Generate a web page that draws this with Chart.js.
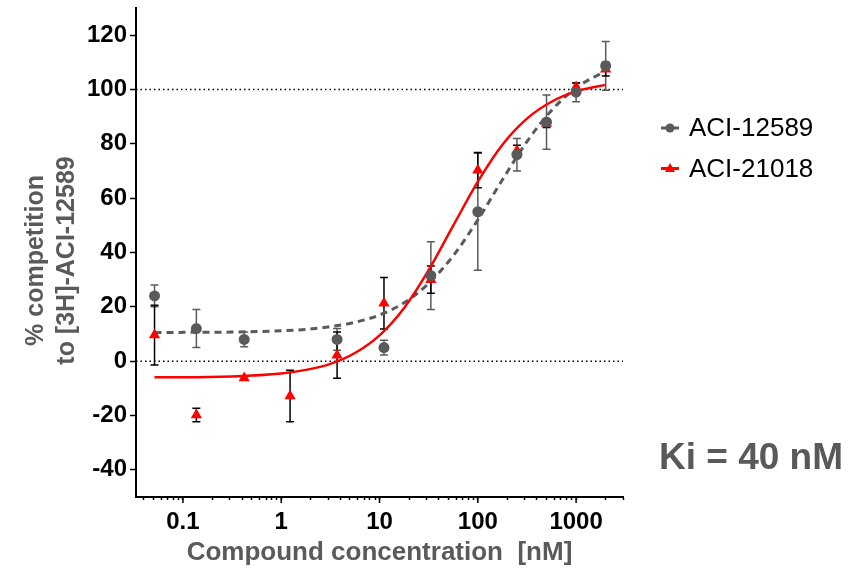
<!DOCTYPE html>
<html lang="en">
<head>
<meta charset="UTF-8">
<title>Competition binding</title>
<script src="https://cdn.jsdelivr.net/npm/chart.js"></script>
<style>
  html, body { margin: 0; padding: 0; background: #fff; }
  .wrap { position: relative; width: 851px; height: 568px; }
  .ki {
    position: absolute; left: 659px; top: 438px;
    font: bold 37px "Liberation Sans", Arial, sans-serif;
    line-height: 37px; color: #595959; white-space: nowrap;
  }
</style>
</head>
<body>
<div class="wrap">
  <canvas id="bindingChart"></canvas>
  <div class="ki">Ki = 40 nM</div>
</div>
<script>
// concentrations tested (nM)
const concentrations = [0.0514, 0.137, 0.42, 1.23, 3.7, 11.1, 33.3, 100, 250, 500, 1000, 2000];

// ACI-12589: mean and error (no value at 1.23 nM)
const aci12589Mean = [24, 12, 8, null, 8, 5, 31.5, 55, 76, 88, 99, 108.7];
const aci12589Err  = [4, 7, 2.7, null, 4, 2.7, 12.5, 21.5, 6, 10, 3.5, 9];

// ACI-21018: mean and error
const aci21018Mean = [9.6, -19.8, -6.2, -12.8, 2.2, 21.3, 30, 70.3, 77.5, 87.5, 100.9, 107.5];
const aci21018Err  = [11, 2.5, 0.6, 9.5, 8.5, 9.5, 5, 6.5, 2, 1.5, 1.5, 2.5];

// fitted curves
const fitX = [0.0514, 0.1, 0.316, 1, 1.78, 3.16, 5.62, 10, 17.8, 31.6, 56.2, 100, 178, 316, 562, 1000, 2000];
const fit12589 = [10.5, 10.6, 10.7, 11.2, 11.7, 12.7, 14.3, 17.0, 21.5, 28.6, 38.8, 52.0, 66.8, 80.8, 92.3, 100.6, 106.8];
const fit21018 = [-5.9, -5.9, -5.6, -4.5, -3.2, -1.0, 3.0, 9.5, 19.6, 33.5, 49.9, 66.1, 79.7, 89.3, 95.5, 99.3, 101.7];

// axes
const xMajorTicks = [0.1, 1, 10, 100, 1000];
const xTickLabels = ['0.1', '1', '10', '100', '1000'];
const yTickValues = [-40, -20, 0, 20, 40, 60, 80, 100, 120];
const yTickLabels = ['-40', '-20', '0', '20', '40', '60', '80', '100', '120'];
const refLines = [0, 100];
const yTitle = ['% competition', 'to [3H]-ACI-12589'];

const FONT = '"Liberation Sans", Arial, sans-serif';
const GREY = '#5a5a5a';
const RED = '#ff0000';

function points(xs, ys, errs) {
  return xs.map((x, i) => ys[i] == null ? null : { x: x, y: ys[i], err: errs ? errs[i] : null })
           .filter(p => p);
}

// log axis ticks: every 1..9 x 10^n inside the range
function logTicks(min, max) {
  const out = [];
  for (let e = -2; e <= 3; e++) {
    for (let m = 1; m <= 9; m++) {
      const v = m * Math.pow(10, e);
      if (v >= min && v <= max) out.push(v);
    }
  }
  return out;
}
const X_MIN = 0.0333, X_MAX = 3000;
const xTickValues = logTicks(X_MIN, X_MAX);

function majorIndex(v) {
  return xMajorTicks.findIndex(m => Math.abs(Math.log10(v) - Math.log10(m)) < 1e-6);
}

const errorBars = {
  id: 'errorBars',
  beforeDatasetsDraw(chart) {
    const { ctx, scales: { x, y } } = chart;
    // dotted lines at 0 % and 100 %
    ctx.save();
    ctx.strokeStyle = '#000';
    ctx.lineWidth = 1.5;
    ctx.setLineDash([1.5, 3]);
    refLines.forEach(v => {
      const py = y.getPixelForValue(v);
      ctx.beginPath();
      ctx.moveTo(chart.chartArea.left, py);
      ctx.lineTo(chart.chartArea.right, py);
      ctx.stroke();
    });
    ctx.restore();

    chart.data.datasets.forEach(ds => {
      if (!ds.errColor) return;
      ctx.save();
      ctx.strokeStyle = ds.errColor;
      ctx.lineWidth = 1.5;
      ds.data.forEach(p => {
        if (p.err == null) return;
        const px = x.getPixelForValue(p.x);
        const top = y.getPixelForValue(p.y + p.err);
        const bot = y.getPixelForValue(p.y - p.err);
        ctx.beginPath();
        ctx.moveTo(px, top); ctx.lineTo(px, bot);
        ctx.moveTo(px - 4, top); ctx.lineTo(px + 4, top);
        ctx.moveTo(px - 4, bot); ctx.lineTo(px + 4, bot);
        ctx.stroke();
      });
      ctx.restore();
    });
  }
};

const extras = {
  id: 'extras',
  afterDraw(chart) {
    const { ctx, chartArea, scales: { x } } = chart;

    // longer ticks at each decade
    ctx.save();
    ctx.strokeStyle = '#000';
    ctx.lineWidth = 1.5;
    xMajorTicks.forEach(v => {
      const px = x.getPixelForValue(v);
      ctx.beginPath();
      ctx.moveTo(px, chartArea.bottom);
      ctx.lineTo(px, chartArea.bottom + 6);
      ctx.stroke();
    });
    ctx.restore();

    // y axis title, two lines
    ctx.save();
    ctx.font = 'bold 25px ' + FONT;
    ctx.fillStyle = GREY;
    ctx.textAlign = 'center';
    ctx.textBaseline = 'middle';
    const cy = (chartArea.top + chartArea.bottom) / 2 + 8;
    yTitle.forEach((t, i) => {
      ctx.save();
      ctx.translate(36 + i * 31, cy);
      ctx.rotate(-Math.PI / 2);
      ctx.fillText(t, 0, 0);
      ctx.restore();
    });
    ctx.restore();

    // legend
    const lx = chartArea.right + 38;
    const rows = [
      { label: 'ACI-12589', color: GREY, style: 'circle', y: 128 },
      { label: 'ACI-21018', color: RED, style: 'triangle', y: 168.5 }
    ];
    ctx.save();
    rows.forEach(r => {
      ctx.strokeStyle = r.color;
      ctx.fillStyle = r.color;
      ctx.lineWidth = 3;
      ctx.setLineDash([]);
      ctx.beginPath();
      ctx.moveTo(lx, r.y);
      ctx.lineTo(lx + 18, r.y);
      ctx.stroke();
      ctx.beginPath();
      if (r.style === 'circle') {
        ctx.arc(lx + 9, r.y, 4.5, 0, Math.PI * 2);
      } else {
        ctx.moveTo(lx + 9, r.y - 5.5);
        ctx.lineTo(lx + 14, r.y + 3.5);
        ctx.lineTo(lx + 4, r.y + 3.5);
        ctx.closePath();
      }
      ctx.fill();
      ctx.fillStyle = '#000';
      ctx.font = '26px ' + FONT;
      ctx.textAlign = 'left';
      ctx.textBaseline = 'middle';
      ctx.fillText(r.label, lx + 28, r.y + 1);
    });
    ctx.restore();
  }
};

const ctx = document.getElementById('bindingChart').getContext('2d');
new Chart(ctx, {
  type: 'scatter',
  data: {
    datasets: [
      {
        label: 'ACI-12589',
        data: points(concentrations, aci12589Mean, aci12589Err),
        pointStyle: 'circle', pointRadius: 5.5,
        backgroundColor: GREY, borderColor: GREY, borderWidth: 0,
        errColor: GREY, order: 0
      },
      {
        label: 'ACI-21018',
        data: points(concentrations, aci21018Mean, aci21018Err),
        pointStyle: 'triangle', pointRadius: 6.5,
        backgroundColor: RED, borderColor: RED, borderWidth: 0,
        errColor: '#000', order: 1
      },
      {
        label: 'fit ACI-21018',
        data: points(fitX, fit21018),
        showLine: true, borderColor: RED, borderWidth: 2.5,
        pointRadius: 0, cubicInterpolationMode: 'monotone', order: 2
      },
      {
        label: 'fit ACI-12589',
        data: points(fitX, fit12589),
        showLine: true, borderColor: GREY, borderWidth: 3, borderDash: [7, 5],
        pointRadius: 0, cubicInterpolationMode: 'monotone', order: 3
      }
    ]
  },
  options: {
    responsive: true,
    maintainAspectRatio: false,
    animation: false,
    layout: { padding: { left: 0, right: 228, top: 8, bottom: 0 } },
    plugins: {
      legend: { display: false },
      tooltip: { enabled: false }
    },
    scales: {
      x: {
        type: 'logarithmic',
        min: X_MIN, max: X_MAX,
        border: { color: '#000', width: 2 },
        grid: { drawOnChartArea: false, tickLength: 3, tickWidth: 1.5, tickColor: '#000' },
        ticks: {
          autoSkip: false, maxRotation: 0, padding: 8, color: '#000',
          font: { family: FONT, size: 24, weight: 'bold' },
          callback: v => { const i = majorIndex(v); return i >= 0 ? xTickLabels[i] : ''; }
        },
        title: {
          display: true, text: 'Compound concentration  [nM]', color: GREY,
          font: { family: FONT, size: 26, weight: 'bold', lineHeight: 1.2 },
          padding: { top: 0, bottom: 0 }
        },
        afterBuildTicks: s => { s.ticks = xTickValues.map(v => ({ value: v })); },
        afterFit: s => { s.height = 71; s.paddingLeft = 0; s.paddingRight = 0; }
      },
      y: {
        min: -50, max: 130,
        border: { color: '#000', width: 2 },
        grid: { drawOnChartArea: false, tickLength: 6, tickWidth: 1.5, tickColor: '#000' },
        ticks: {
          padding: 3, color: '#000',
          font: { family: FONT, size: 24, weight: 'bold' },
          callback: v => { const i = yTickValues.indexOf(v); return i >= 0 ? yTickLabels[i] : ''; }
        },
        afterBuildTicks: s => { s.ticks = yTickValues.map(v => ({ value: v })); },
        afterFit: s => { s.width = 136; s.paddingTop = 0; s.paddingBottom = 0; }
      }
    }
  },
  plugins: [errorBars, extras]
});
</script>
</body>
</html>
